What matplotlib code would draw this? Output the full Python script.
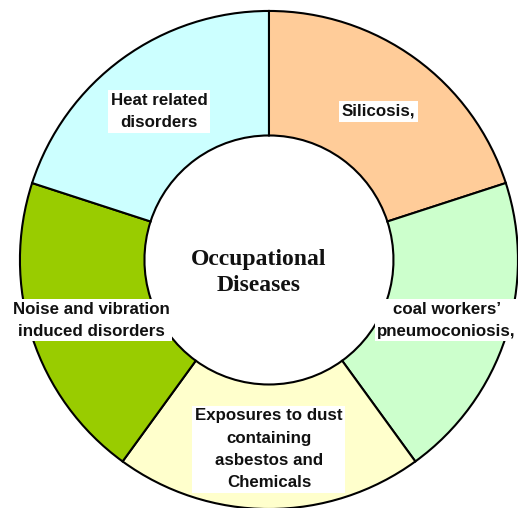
import matplotlib
matplotlib.use('Agg')
import matplotlib.pyplot as plt
import numpy as np

# data
categories = ['Silicosis,', 'coal workers\u2019\npneumoconiosis,',
              'Exposures to dust\ncontaining\nasbestos and\nChemicals',
              'Noise and vibration\ninduced disorders', 'Heat related\ndisorders']
shares = [1, 1, 1, 1, 1]
colors = ['#FFCC99', '#CCFFCC', '#FFFFCC', '#99CC00', '#CCFFFF']
center_title = 'Occupational\nDiseases'

fig = plt.figure(figsize=(5.18, 5.08), dpi=100)
ax = fig.add_axes([0, 0, 1, 1])

wedges, _ = ax.pie(shares, colors=colors, startangle=90, counterclock=False,
                   radius=1.0,
                   wedgeprops=dict(width=0.5, edgecolor='black', linewidth=1.5))

for w, lab in zip(wedges, categories):
    ang = np.deg2rad((w.theta1 + w.theta2) / 2)
    r = 0.75
    ax.text(r * np.cos(ang), r * np.sin(ang) - 0.01, lab, ha='center', va='center',
            fontsize=12.2, fontweight='bold', family='Liberation Sans',
            linespacing=1.6, color='#111111',
            bbox=dict(facecolor='white', edgecolor='none', pad=2))

ax.text(-0.04, -0.05, center_title, ha='center', va='center', fontsize=17,
        fontweight='bold', family='Liberation Serif', linespacing=1.3, color='#111111')

ax.set_xlim(-1.080, 1.000)
ax.set_ylim(-0.996, 1.044)
ax.set_aspect('equal')
ax.axis('off')

fig.savefig('out.png', dpi=100)
